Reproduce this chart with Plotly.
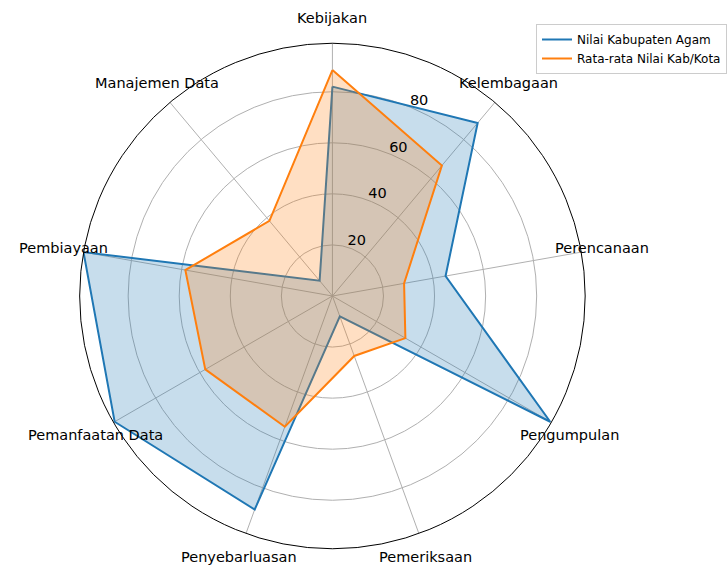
import math
import plotly.graph_objects as go

categories = ["Kebijakan", "Kelembagaan", "Perencanaan", "Pengumpulan", "Pemeriksaan",
              "Penyebarluasan", "Pemanfaatan Data", "Pembiayaan", "Manajemen Data"]
agam = [82, 88.5, 45, 98.5, 8.5, 89, 98.5, 99, 7.8]
rata = [88.5, 66.7, 28.5, 33, 25, 54.5, 57.5, 58.5, 38.4]
radial_ticks = [20, 40, 60, 80]

name_agam = "Nilai Kabupaten Agam"
name_rata = "Rata-rata Nilai Kab/Kota"

blue = "#1f77b4"
orange = "#ff7f0e"
r_max = 99
rlabel_theta = 24        # radial label position (degrees clockwise from top)
rlabel_pad = 3.5         # data units outward from each ring
step = 360 / len(categories)
angles = [i * step for i in range(len(categories))]

theta = angles + angles[:1]
r_agam = agam + agam[:1]
r_rata = rata + rata[:1]

fig = go.Figure()
fig.add_trace(go.Scatterpolar(r=r_agam, theta=theta, fill="toself",
                              fillcolor="rgba(31,119,180,0.25)", line=dict(width=0),
                              mode="lines", showlegend=False, hoverinfo="skip"))
fig.add_trace(go.Scatterpolar(r=r_agam, theta=theta, mode="lines", name=name_agam,
                              line=dict(color=blue, width=2)))
fig.add_trace(go.Scatterpolar(r=r_rata, theta=theta, fill="toself",
                              fillcolor="rgba(255,127,14,0.25)", line=dict(width=0),
                              mode="lines", showlegend=False, hoverinfo="skip"))
fig.add_trace(go.Scatterpolar(r=r_rata, theta=theta, mode="lines", name=name_rata,
                              line=dict(color=orange, width=2)))
# radial tick labels, placed like matplotlib's
fig.add_trace(go.Scatterpolar(r=[t + rlabel_pad for t in radial_ticks],
                              theta=[rlabel_theta] * len(radial_ticks), mode="text",
                              text=[str(t) for t in radial_ticks], textposition="middle center",
                              textfont=dict(size=14.5, color="black"),
                              cliponaxis=False, showlegend=False, hoverinfo="skip"))

W, H = 727, 567
cx, cy, R = 338, 296, 257
fig.update_layout(
    width=W, height=H, autosize=False,
    margin=dict(l=0, r=0, t=0, b=0),
    paper_bgcolor="white",
    font=dict(family="DejaVu Sans", size=14.5, color="black"),
    polar=dict(
        domain=dict(x=[(cx - R) / W, (cx + R) / W], y=[(H - cy - R) / H, (H - cy + R) / H]),
        bgcolor="white",
        angularaxis=dict(type="linear", thetaunit="degrees", rotation=90,
                         direction="clockwise", tickmode="array", tickvals=angles,
                         showline=True, linecolor="black", linewidth=1,
                         gridcolor="#b0b0b0", gridwidth=0.8,
                         ticks="", showticklabels=False),
        radialaxis=dict(range=[0, r_max], tickvals=radial_ticks,
                        showline=False, ticks="", showticklabels=False,
                        gridcolor="#b0b0b0", gridwidth=0.8),
    ),
    legend=dict(x=545 / W, y=1 - 24 / H, xanchor="left", yanchor="top",
                bgcolor="rgba(255,255,255,0.8)", bordercolor="#cccccc", borderwidth=1,
                font=dict(size=12), tracegroupgap=0, itemwidth=30),
)

# category labels centred outside the rim, like matplotlib's theta tick labels
label_px = 278
for ang, cat in zip(angles, categories):
    a = math.radians(90 - ang)
    fig.add_annotation(x=(cx + label_px * math.cos(a)) / W,
                       y=(H - cy + label_px * math.sin(a)) / H,
                       xref="paper", yref="paper", text=cat, showarrow=False,
                       xanchor="center", yanchor="middle",
                       font=dict(size=14.5, color="black"))

fig.write_html("out.html", config={"displayModeBar": False, "responsive": False},
               post_script="document.body.style.margin='0';")
